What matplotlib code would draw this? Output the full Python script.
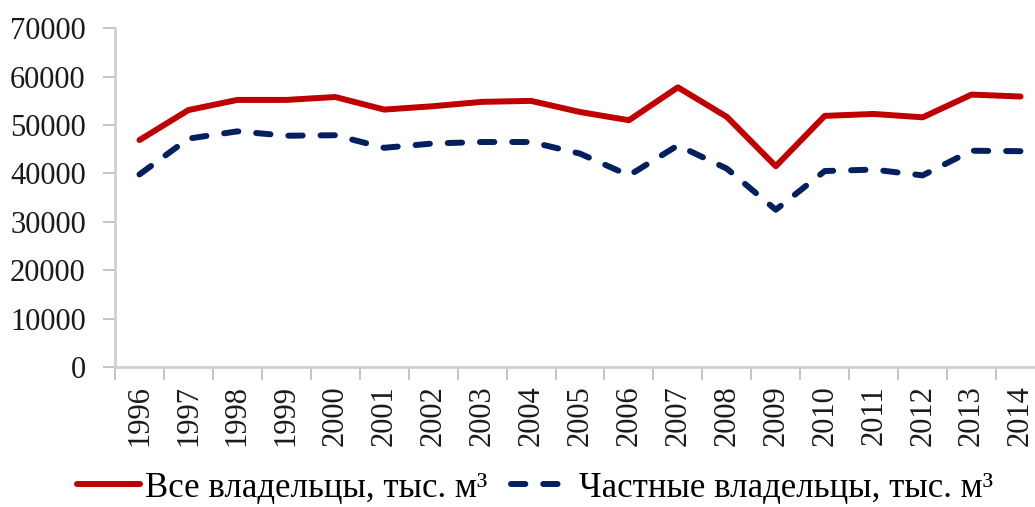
import matplotlib
matplotlib.use("Agg")
import matplotlib.pyplot as plt
from matplotlib.ticker import FixedLocator

years = ["1996", "1997", "1998", "1999", "2000", "2001", "2002", "2003", "2004", "2005",
         "2006", "2007", "2008", "2009", "2010", "2011", "2012", "2013", "2014"]
all_owners = [46900, 53100, 55200, 55200, 55800, 53200, 53900, 54800, 55000, 52700,
              51000, 57800, 51700, 41500, 51900, 52300, 51600, 56300, 55900]
private_owners = [39800, 47200, 48700, 47800, 47900, 45300, 46200, 46500, 46500, 44100,
                  39600, 45800, 41000, 32500, 40500, 40800, 39600, 44700, 44600]
yticks = [0, 10000, 20000, 30000, 40000, 50000, 60000, 70000]
label_all = "Все владельцы, тыс. м³"
label_private = "Частные владельцы, тыс. м³"

plt.rcParams['font.family'] = ['Liberation Serif', 'DejaVu Serif']

fig = plt.figure(figsize=(10.35, 5.07), dpi=100)
ax = fig.add_axes([115/1035, 1 - 367/507, 930/1035, (367 - 28.3)/507])

x = list(range(len(years)))
ax.plot(x, all_owners, color="#C00000", lw=4.3, solid_capstyle="round",
        solid_joinstyle="round", label=label_all)
ax.plot(x, private_owners, color="#00205F", lw=4.3, dash_capstyle="round",
        dashes=(2.4, 3.0), label=label_private)

ax.set_xlim(-0.5, len(years) - 0.5)
ax.set_ylim(0, 70000)
ax.set_yticks(yticks)
ax.set_yticklabels([str(v) for v in yticks])
ax.set_xticks(x)
ax.set_xticklabels(years, rotation=90)
ax.xaxis.set_minor_locator(FixedLocator([i - 0.5 for i in range(len(years) + 1)]))
ax.tick_params(axis="x", which="major", length=0, pad=13, labelsize=22, colors="#1a1a1a")
ax.tick_params(axis="x", which="minor", length=9, width=1.3, color="#bfbfbf", direction="out")
ax.tick_params(axis="y", length=9, width=1.3, color="#bfbfbf", pad=12, labelsize=22,
               labelcolor="#1a1a1a")

for s in ["top", "right"]:
    ax.spines[s].set_visible(False)
for s in ["left", "bottom"]:
    ax.spines[s].set_color("#d0d0d0")
    ax.spines[s].set_linewidth(2)

fig.legend(loc="center", bbox_to_anchor=(535/1035, 1 - 488/507), ncol=2, frameon=False,
           fontsize=25, handlelength=1.8, handletextpad=0.15, columnspacing=0.7,
           borderpad=0, borderaxespad=0)

fig.savefig("out.png", dpi=100)
